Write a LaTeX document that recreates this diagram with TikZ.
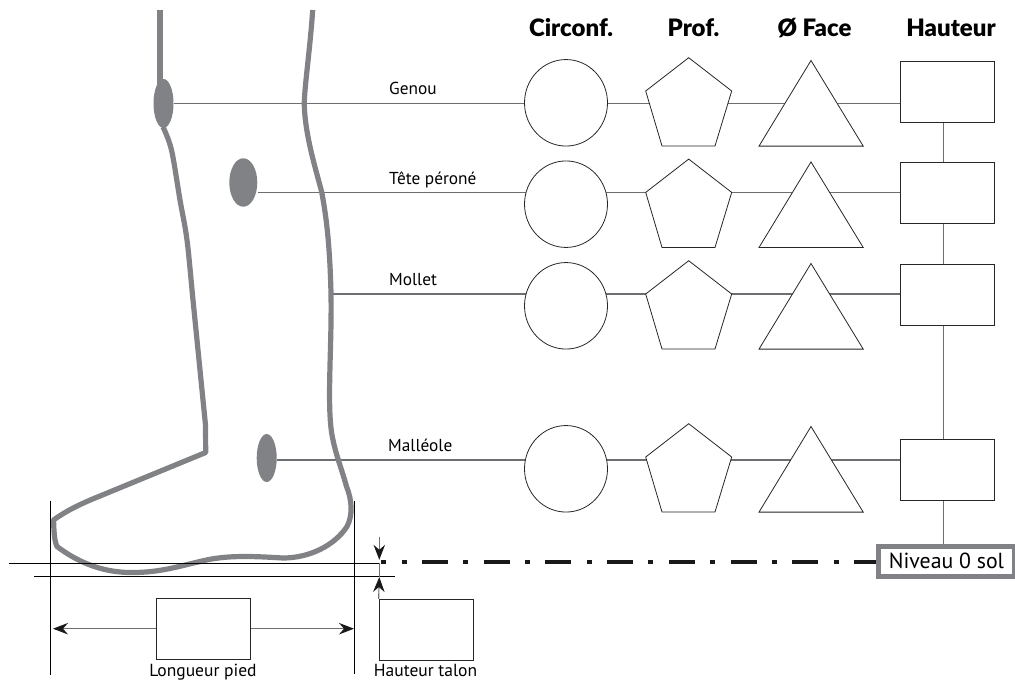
\documentclass[tikz,border=0pt]{standalone}
\usepackage{fontspec}
\setmainfont{PT Sans}
\newfontfamily\headfont{Lato}[BoldFont={Lato Black}]
\usetikzlibrary{shapes.geometric,arrows.meta,backgrounds,calc}
\definecolor{legcol}{HTML}{808285}
\definecolor{conncol}{HTML}{6D6E71}
\tikzset{
  x=1pt,y=-1pt,
  legline/.style={draw=legcol,line width=5.2pt,line join=round},
  spot/.style={ellipse,fill=legcol,inner sep=0pt,minimum width=#1},
  conn/.style={draw=conncol,line width=1.1pt},
  outline/.style={draw=black!85,line width=0.8pt,fill=white},
  roundbox/.style={ellipse,outline,inner sep=0pt,minimum width=83pt,minimum height=86.5pt},
  valuebox/.style={rectangle,outline,inner sep=0pt,minimum width=94.5pt,minimum height=61pt},
  head/.style={font=\headfont\bfseries\fontsize{24}{27}\selectfont,anchor=base,inner sep=0pt},
  tag/.style={font=\fontsize{17.3}{20}\selectfont,anchor=base west,inner sep=0pt},
  footnote/.style={font=\fontsize{17.5}{20}\selectfont,anchor=base,inner sep=0pt},
  guide/.style={draw=black,line width=0.8pt},
  tip/.style={-{Stealth[length=15pt,width=11.5pt,inset=5pt,color=black!90]}},
  pentshape/.pic={\path[outline] (0,-45.3)--(43,-12)--(26.3,43)--(-26.7,43)--(-43,-12)--cycle;},
  trishape/.pic={\path[outline] (0,-42.8)--(52.2,42.8)--(-52,42.8)--cycle;},
}
\begin{document}
\begin{tikzpicture}
\useasboundingbox (0,0) rectangle (1015,680);

% Leg outline
\draw[legline,line cap=butt] (160,10) -- (160,85);
\draw[legline] plot[smooth,tension=0.55] coordinates {(163,127) (171.5,150) (180,200) (187,240) (193,300) (200,370) (205.5,425)} -- (205.7,452.5)
  -- (100,496) .. controls (80,504) and (66,511) .. (53.5,520)
  .. controls (54,530) and (54,540) .. (57,546.5)
  .. controls (75,560) and (100,573) .. (133,572.5)
  .. controls (160,572.5) and (180,566) .. (200,561.5)
  .. controls (225,555) and (250,556) .. (283,558)
  .. controls (310,558) and (335,545) .. (347,526.5)
  .. controls (353,515) and (352,500) .. (346.5,486.5)
  .. controls (342,470) and (336,455) .. (333,440)
  .. controls (326,410) and (332,350) .. (331,294)
  .. controls (330,250) and (327,220) .. (321.7,192)
  .. controls (316,170) and (305,135) .. (304.3,105)
  .. controls (304,90) and (310,50) .. (312.7,10);

% Measuring points on the leg
\node[spot=20pt,minimum height=49pt] (knee) at (163.5,103.5) {};
\node[spot=28pt,minimum height=48.5pt] (fibula) at (243.3,182.5) {};
\node[spot=20pt,minimum height=48pt] (ankle) at (266.7,458) {};
\coordinate (calf) at (331,294);

% Measurement rows
\foreach \n/\dy in {1/0,2/101.4,3/203,4/366}{
  \node[roundbox] (circ\n) at (566,{102.8+\dy}) {};
  \pic (pent\n) at (688.7,{103+\dy}) {pentshape};
  \pic (tri\n) at (811,{103.3+\dy}) {trishape};
}
\node[valuebox] (h1) at (947.5,91.7) {};
\node[valuebox] (h2) at (947.5,193.3) {};
\node[valuebox] (h3) at (947.5,294.7) {};
\node[valuebox] (h4) at (947.5,469.5) {};

% Ground level tag
\node[rectangle,fill=legcol,minimum width=139pt,minimum height=34.7pt,inner sep=0pt] (tagback) at (945.5,561.3) {};
\node[rectangle,fill=white,minimum width=131.7pt,minimum height=24.5pt,inner sep=0pt,font=\fontsize{21.8}{24}\selectfont] (level) at (946.5,561.3) {Niveau 0 sol};

% Connectors run behind the filled shapes
\begin{pgfonlayer}{background}
  \coordinate (r1) at (0,103.3);
  \coordinate (r2) at (0,192.7);
  \coordinate (r3) at (0,294);
  \coordinate (r4) at (0,460);
  \draw[conn] (knee.east |- r1) -- (h1.west |- r1);
  \draw[conn] (fibula.east |- r2) -- (h2.west |- r2);
  \draw[conn] (calf |- r3) -- (h3.west |- r3);
  \draw[conn] (ankle.east |- r4) -- (h4.west |- r4);
  \coordinate (trunk) at (943.7,0);
  \draw[conn] (trunk |- h1.south) -- (trunk |- h2.north);
  \draw[conn] (trunk |- h2.south) -- (trunk |- h3.north);
  \draw[conn] (trunk |- h3.south) -- (trunk |- h4.north);
  \draw[conn] (trunk |- h4.south) -- (trunk |- tagback.north);
\end{pgfonlayer}

% Column headings
\node[head] (hcirc) at (571,36) {Circonf.};
\node[head] (hprof) at (693.5,36) {Prof.};
\node[head] (hface) at (814.5,36) {Ø Face};
\node[head] (hhaut) at (951,36) {Hauteur};

% Row labels
\node[tag] (lgenou) at (389,94) {Genou};
\node[tag] (ltete) at (389,184) {Tête péroné};
\node[tag] (lmollet) at (389,285) {Mollet};
\node[tag] (lmall) at (388,451) {Malléole};

% Ground and sole lines
\coordinate (groundL) at (9.3,563.3);
\coordinate (groundR) at (379.3,563.3);
\draw[draw=black,line width=1.6pt] (groundL) -- (groundR);
\coordinate (soleL) at (34,576.4);
\coordinate (soleR) at (395,576.4);
\draw[guide] (soleL) -- (soleR);
\coordinate (toeT) at (50.3,500.7);
\coordinate (toeB) at (50.3,675);
\coordinate (heelT) at (354.7,500.7);
\coordinate (heelB) at (354.7,673.5);
\draw[guide] (toeT) -- (toeB);
\draw[guide] (heelT) -- (heelB);

% Level line to the tag
\draw[draw=black!90,line width=4.2pt,dash pattern=on 26pt off 15.35pt on 5pt off 15.35pt,dash phase=20.7pt]
  (381,562.3) -- (tagback.west |- 0,562.3);

% Foot length
\node[valuebox,minimum height=60.6pt] (footlen) at (203.3,629) {};
\coordinate (arrowL) at (53,628.7);
\coordinate (arrowR) at (354,628.7);
\draw[conn,tip] (footlen.west |- arrowL) -- (arrowL);
\draw[conn,tip] (footlen.east |- arrowR) -- (arrowR);
\node[footnote] (lfoot) at (203,676.5) {Longueur pied};

% Heel height
\node[valuebox,minimum height=61pt] (heelbox) at (426.3,629.8) {};
\coordinate (heelTop) at (379.3,537.3);
\coordinate (heelTip) at (379.3,559.8);
\coordinate (soleTip) at (379.3,577);
\draw[conn,tip] (heelTop) -- (heelTip);
\draw[conn] (groundR) -- (soleTip);
\draw[conn,tip] (heelbox.north west) -- (soleTip);
\node[footnote] (lheel) at (425.5,676.5) {Hauteur talon};
\end{tikzpicture}
\end{document}
